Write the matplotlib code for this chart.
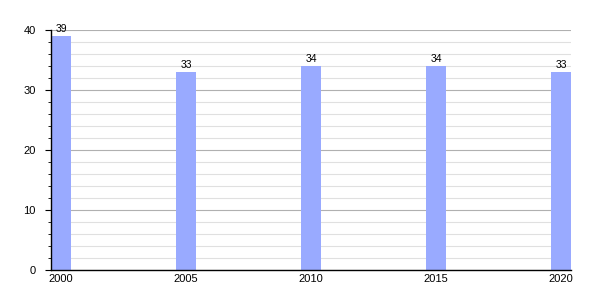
import matplotlib.pyplot as plt
from matplotlib.ticker import MultipleLocator

plt.rcParams['font.family'] = ['Liberation Sans', 'DejaVu Sans']

years = [2000, 2005, 2010, 2015, 2020]
values = [39, 33, 34, 34, 33]

fig = plt.figure(figsize=(6, 3), dpi=100)
ax = fig.add_axes([0.085, 0.1, 0.867, 0.8])

bars = ax.bar(years, values, width=0.8, color='#99aaff', zorder=2)
for x, v in zip(years, values):
    ax.text(x, v + 0.3, str(v), ha='center', va='bottom', fontsize=7.5)

ax.set_xlim(1999.6, 2020.4)
ax.set_ylim(0, 40)
ax.set_xticks(years)
ax.yaxis.set_major_locator(MultipleLocator(10))
ax.yaxis.set_minor_locator(MultipleLocator(2))
ax.grid(True, axis='y', which='major', color='#b0b0b0', linewidth=0.8, zorder=0)
ax.grid(True, axis='y', which='minor', color='#e0e0e0', linewidth=0.8, zorder=0)

for s in ['top', 'right']:
    ax.spines[s].set_visible(False)
ax.spines['left'].set_linewidth(1)
ax.spines['bottom'].set_linewidth(1)
ax.tick_params(axis='x', length=0, labelsize=8, pad=3)
ax.tick_params(axis='y', which='major', length=4, labelsize=8, pad=7)
ax.tick_params(axis='y', which='minor', length=2)

fig.savefig('out.png')
